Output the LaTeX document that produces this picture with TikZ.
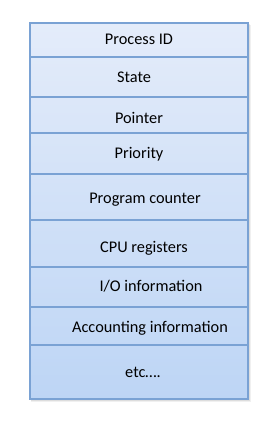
\documentclass[tikz,border=0pt]{standalone}
\usepackage{fontspec}
\setmainfont{Carlito}
\usetikzlibrary{math}
\definecolor{pcbtop}{RGB}{228,236,250}
\definecolor{pcbbot}{RGB}{189,213,245}
\definecolor{pcbline}{RGB}{122,162,212}
\tikzset{
rowtext/.style={font=\fontsize{16.3}{19}\selectfont, inner sep=0pt, anchor=center}
}
\begin{document}
\begin{tikzpicture}[x=1pt, y=-1pt]
\tikzmath{
\L=30; \R=248; \T=23; \B=399;
}
\useasboundingbox (0,0) rectangle (273,421);

% shadow
\fill[black, opacity=0.06] (\L+1,\T+2) rectangle (\R+3,\B+3);
\fill[black, opacity=0.08] (\L+1,\T+1) rectangle (\R+1.5,\B+1.5);

% body
\shade[top color=pcbtop, bottom color=pcbbot] (\L,\T) rectangle (\R,\B);
\draw[pcbline, line width=1.1pt] (\L,\T) rectangle (\R,\B);
\foreach \y in {57,97,133,174,220,267,307,345}{
\draw[pcbline, line width=1.1pt] (\L,\y) -- (\R,\y);
}

% fields
\node[rowtext] (pid)  at (139,39)  {Process ID};
\node[rowtext] (st)   at (134,77)  {State};
\node[rowtext] (ptr)  at (139,118) {Pointer};
\node[rowtext] (prio) at (139,154) {Priority};
\node[rowtext] (pc)   at (145,200) {Program counter};
\node[rowtext] (cpu)  at (144,248) {CPU registers};
\node[rowtext] (io)   at (151,286) {I/O information};
\node[rowtext] (acc)  at (150,328) {Accounting information};
\node[rowtext] (etc)  at (143,372) {etc\dots.};

\end{tikzpicture}
\end{document}
